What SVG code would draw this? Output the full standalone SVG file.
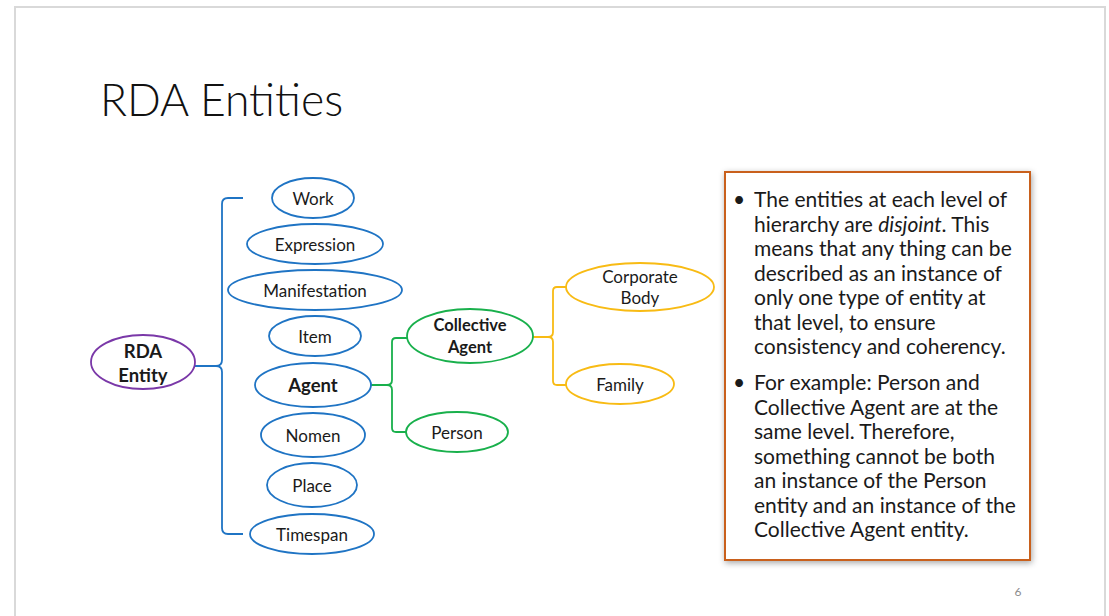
<svg xmlns="http://www.w3.org/2000/svg" width="1109" height="616" viewBox="0 0 1109 616">
<style>
.lbl{font-family:Lato,"Open Sans","Liberation Sans",sans-serif;font-size:17px;fill:#1a1a1a;text-anchor:middle;dominant-baseline:central}
.b{font-weight:bold;font-size:18.5px}
.blue{fill:#fff;stroke:#1f74c4;stroke-width:1.8}
.purple{fill:#fff;stroke:#7a38a8;stroke-width:1.8}
.green{fill:#fff;stroke:#19b04c;stroke-width:1.8}
.yellow{fill:#fff;stroke:#f8bb14;stroke-width:1.8}
.conn path{fill:none;stroke-width:1.8}
.body{font-family:Lato,"Open Sans","Liberation Sans",sans-serif;font-size:21px;fill:#1a1a1a}
</style>
<defs>
<filter id="sh" x="-10%" y="-10%" width="120%" height="120%">
<feDropShadow dx="1" dy="2" stdDeviation="3" flood-color="#000" flood-opacity="0.35"/>
</filter>
</defs>
<rect width="1109" height="616" fill="#fff"/>
<path d="M15,620 V7 H1105 V620" fill="none" stroke="#d9d9d9" stroke-width="2"/>
<text x="100" y="116" font-family="Lato,'Open Sans','Liberation Sans',sans-serif" font-weight="300" font-size="44.5" fill="#111">RDA Entities</text>

<g id="connectors" class="conn">
<path stroke="#1f74c4" d="M195,366 H216 M243,198 H228 Q222,198 222,204 V360 Q222,366 216,366 Q222,366 222,372 V528 Q222,534 228,534 H243"/>
<path stroke="#19b04c" d="M371,385 H387 M407,338 H396 Q392,338 392,342 V380 Q392,385 387,385 Q392,385 392,390 V428 Q392,432 396,432 H407"/>
<path stroke="#f8bb14" d="M533,337 H548 M566,287 H557 Q553,287 553,291 V332 Q553,337 548,337 Q553,337 553,342 V381 Q553,385 557,385 H566"/>
</g>

<g id="rda-entity"><ellipse class="purple" cx="143" cy="362" rx="52" ry="27"/><text class="lbl b" x="143" y="351">RDA</text><text class="lbl b" x="143" y="375">Entity</text></g>
<g id="work"><ellipse class="blue" cx="313" cy="198" rx="41" ry="20"/><text class="lbl" x="313" y="198">Work</text></g>
<g id="expression"><ellipse class="blue" cx="315" cy="244" rx="68" ry="20"/><text class="lbl" x="315" y="244">Expression</text></g>
<g id="manifestation"><ellipse class="blue" cx="315" cy="290" rx="87" ry="20"/><text class="lbl" x="315" y="290">Manifestation</text></g>
<g id="item"><ellipse class="blue" cx="315" cy="336" rx="46" ry="20"/><text class="lbl" x="315" y="336">Item</text></g>
<g id="agent"><ellipse class="blue" cx="313" cy="385" rx="58" ry="22"/><text class="lbl b" x="313" y="385">Agent</text></g>
<g id="nomen"><ellipse class="blue" cx="313" cy="435" rx="52" ry="22"/><text class="lbl" x="313" y="435">Nomen</text></g>
<g id="place"><ellipse class="blue" cx="312" cy="485" rx="45" ry="22"/><text class="lbl" x="312" y="485">Place</text></g>
<g id="timespan"><ellipse class="blue" cx="312" cy="534" rx="62" ry="20"/><text class="lbl" x="312" y="534">Timespan</text></g>
<g id="collective-agent"><ellipse class="green" cx="470" cy="336" rx="63" ry="27"/><text class="lbl b" x="470" y="325" style="font-size:16.5px">Collective</text><text class="lbl b" x="470" y="347" style="font-size:16.5px">Agent</text></g>
<g id="person"><ellipse class="green" cx="457" cy="432" rx="51" ry="20"/><text class="lbl" x="457" y="432">Person</text></g>
<g id="corporate-body"><ellipse class="yellow" cx="640" cy="287" rx="74" ry="24"/><text class="lbl" x="640" y="276">Corporate</text><text class="lbl" x="640" y="297">Body</text></g>
<g id="family"><ellipse class="yellow" cx="620" cy="384" rx="54" ry="20"/><text class="lbl" x="620" y="384">Family</text></g>

<g id="note">
<rect x="725" y="172" width="305" height="388" fill="#fff" stroke="#c9611c" stroke-width="2" filter="url(#sh)"/>
<g class="body">
<text x="733" y="207">•</text>
<text x="754" y="207">The entities at each level of</text>
<text x="754" y="231.5">hierarchy are <tspan font-style="italic">disjoint</tspan>. This</text>
<text x="754" y="256">means that any thing can be</text>
<text x="754" y="280.5">described as an instance of</text>
<text x="754" y="305">only one type of entity at</text>
<text x="754" y="329.5">that level, to ensure</text>
<text x="754" y="354">consistency and coherency.</text>
<text x="733" y="390">•</text>
<text x="754" y="390">For example: Person and</text>
<text x="754" y="414.5">Collective Agent are at the</text>
<text x="754" y="439">same level. Therefore,</text>
<text x="754" y="463.5">something cannot be both</text>
<text x="754" y="488">an instance of the Person</text>
<text x="754" y="512.5">entity and an instance of the</text>
<text x="754" y="537">Collective Agent entity.</text>
</g>
</g>
<text x="1018" y="596" font-family="Lato,'Liberation Sans',sans-serif" font-size="12" fill="#8c8c8c" text-anchor="middle">6</text>
</svg>
